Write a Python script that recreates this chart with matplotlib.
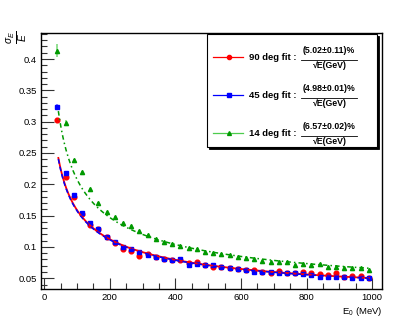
import numpy as np
import matplotlib
matplotlib.use("Agg")
import matplotlib.pyplot as plt
from matplotlib.lines import Line2D
from matplotlib.patches import Rectangle
from matplotlib.ticker import MultipleLocator, FuncFormatter

plt.rcParams['font.family'] = ['Liberation Sans', 'DejaVu Sans']
plt.rcParams['mathtext.fontset'] = 'custom'
plt.rcParams['mathtext.rm'] = 'Liberation Sans'
plt.rcParams['mathtext.it'] = 'Liberation Sans:italic'
plt.rcParams['mathtext.bf'] = 'Liberation Sans:bold'

# ---------------- data ----------------
energy = [40, 65, 90, 115, 140, 165, 190, 215, 240, 265, 290, 315, 340, 365, 390,
          415, 440, 465, 490, 515, 540, 565, 590, 615, 640, 665, 690, 715, 740,
          765, 790, 815, 840, 865, 890, 915, 940, 965, 990]

res_90 = [0.3026, 0.2121, 0.1793, 0.1526, 0.1351, 0.1280, 0.1160, 0.1069, 0.0968,
          0.0935, 0.0858, 0.0880, 0.0840, 0.0812, 0.0790, 0.0790, 0.0750, 0.0755,
          0.0707, 0.0672, 0.0686, 0.0660, 0.0645, 0.0638, 0.0632, 0.0605, 0.0590,
          0.0616, 0.0590, 0.0580, 0.0596, 0.0580, 0.0569, 0.0553, 0.0590, 0.0526,
          0.0530, 0.0537, 0.0505]

res_45 = [0.3239, 0.2176, 0.1830, 0.1547, 0.1378, 0.1287, 0.1164, 0.1085, 0.1005,
          0.0963, 0.0915, 0.0872, 0.0840, 0.0803, 0.0795, 0.0805, 0.0718, 0.0725,
          0.0704, 0.0704, 0.0672, 0.0660, 0.0648, 0.0632, 0.0605, 0.0596, 0.0605,
          0.0590, 0.0580, 0.0580, 0.0569, 0.0553, 0.0526, 0.0526, 0.0526, 0.0516,
          0.0510, 0.0510, 0.0500]

res_14 = [0.4132, 0.2974, 0.2385, 0.2190, 0.1920, 0.1707, 0.1558, 0.1483, 0.1388,
          0.1335, 0.1258, 0.1191, 0.1127, 0.1082, 0.1047, 0.1015, 0.0979, 0.0963,
          0.0920, 0.0904, 0.0885, 0.0872, 0.0835, 0.0829, 0.0800, 0.0780, 0.0765,
          0.0755, 0.0755, 0.0712, 0.0728, 0.0712, 0.0723, 0.0685, 0.0685, 0.0669,
          0.0669, 0.0660, 0.0640]

err_first_90 = [0.004, 0.003]
err_first_45 = [0.005, 0.003]
err_first_14 = [0.010, 0.005]
err_rest = 0.0015

# fit parameters (stochastic term, % / sqrt(E[GeV]))
fit_90 = 5.02
fit_45 = 4.98
fit_14 = 6.57
fit_labels = ["90 deg fit :", "45 deg fit :", "14 deg fit :"]
fit_fracs = ["(5.02\u00b10.11)%", "(4.98\u00b10.01)%", "(6.57\u00b10.02)%"]
fit_denom = "\u221aE(GeV)"

x_label = "E$_0$ (MeV)"
y_label = r"$\frac{\sigma_E}{E}$"
x_ticks = [0, 200, 400, 600, 800, 1000]

# ---------------- figure ----------------
W, H = 415, 323
fig = plt.figure(figsize=(W / 100, H / 100), dpi=100)
ax = fig.add_axes([41.3 / W, 1 - 289.3 / H, (382 - 41.3) / W, (289.3 - 32.5) / H])

red = '#ff0000'
blue = '#0000ff'
green = '#009900'

E = np.array(energy, dtype=float)

def errs(first):
    e = np.full(len(energy), err_rest)
    e[:len(first)] = first
    return e

ax.errorbar(E, res_90, yerr=errs(err_first_90), fmt='o', color=red, ms=3.4,
            mec=red, ecolor=(1, 0.5, 0.5), elinewidth=1.2, capsize=0, zorder=3)
ax.errorbar(E, res_45, yerr=errs(err_first_45), fmt='s', color=blue, ms=3.5,
            mec=blue, ecolor=(0.5, 0.5, 1), elinewidth=1.2, capsize=0, zorder=3)
ax.errorbar(E, res_14, yerr=errs(err_first_14), fmt='^', color=green, ms=3.0,
            mec=green, ecolor=(0.5, 0.85, 0.5), elinewidth=1.2, capsize=0, zorder=3)

# fit curves a/sqrt(E[GeV])
Ef = np.linspace(43, 990, 400)
ax.plot(Ef, fit_90 / 100 / np.sqrt(Ef / 1000), color=red, lw=1.3, zorder=4)
ax.plot(Ef, fit_45 / 100 / np.sqrt(Ef / 1000), color=blue, lw=1.1,
        dashes=(3, 2), zorder=5)
ax.plot(Ef, fit_14 / 100 / np.sqrt(Ef / 1000), color=green, lw=1.1,
        dashes=(3, 2, 1, 2), zorder=4)

ax.set_xlim(-9, 1030)
ax.set_ylim(0.0324, 0.4423)

ax.set_xticks(x_ticks)
ax.xaxis.set_minor_locator(MultipleLocator(50))
ax.yaxis.set_major_locator(MultipleLocator(0.05))
ax.yaxis.set_minor_locator(MultipleLocator(0.01))
ax.yaxis.set_major_formatter(FuncFormatter(lambda v, p: ('%.2f' % v).rstrip('0')))

ax.tick_params(axis='both', which='both', direction='in', top=False, right=False,
               labelsize=6.8, width=0.8, color='#333333')
ax.tick_params(axis='y', which='major', length=9, pad=3)
ax.tick_params(axis='y', which='minor', length=4.5)
ax.tick_params(axis='x', which='major', length=8, pad=2.5)
ax.tick_params(axis='x', which='minor', length=4)
for s in ax.spines.values():
    s.set_linewidth(1.0)

fig.text(382 / W, 1 - 311 / H, x_label, ha='right', va='center', fontsize=6.8)
fig.text(17 / W, 1 - 37 / H, y_label, ha='center', va='center', fontsize=10.5,
         rotation=90)

# ---------------- legend box ----------------
def fx(p):
    return p / W

def fy(p):
    return 1 - p / H

bx0, bx1, by0, by1 = 206.7, 376.7, 34, 147
shadow = Rectangle((fx(bx0 + 2), fy(by1 + 2)), fx(bx1 - bx0), (by1 - by0) / H,
                   transform=fig.transFigure, facecolor='black', edgecolor='black',
                   lw=0.6, zorder=9)
box = Rectangle((fx(bx0), fy(by1)), fx(bx1 - bx0), (by1 - by0) / H,
                transform=fig.transFigure, facecolor='white', edgecolor='black',
                lw=0.8, zorder=10)
fig.add_artist(shadow)
fig.add_artist(box)

rows = [57.3, 95.3, 133.3]
lcols = [red, blue, (0.3, 0.8, 0.3)]
mcols = [red, blue, green]
marks = ['o', 's', '^']
msz = [3.0, 3.0, 2.8]
for i, yrow in enumerate(rows):
    fig.add_artist(Line2D([fx(213), fx(243)], [fy(yrow), fy(yrow)],
                          transform=fig.transFigure, color=lcols[i], lw=0.9,
                          zorder=11))
    fig.add_artist(Line2D([fx(228.5)], [fy(yrow)], transform=fig.transFigure,
                          marker=marks[i], color=mcols[i], ms=msz[i], zorder=12,
                          linestyle='none'))
    fig.text(fx(249.3), fy(yrow), fit_labels[i], ha='left', va='center',
             fontsize=6.8, fontweight='bold', zorder=12)
    fig.text(fx(329), fy(yrow - 6.8), fit_fracs[i], ha='center', va='center',
             fontsize=6.3, fontweight='bold', zorder=12)
    fig.text(fx(329.5), fy(yrow + 7.8), fit_denom, ha='center', va='center',
             fontsize=6.3, fontweight='bold', zorder=12)
    fig.add_artist(Line2D([fx(300.5), fx(357)], [fy(yrow + 2.5), fy(yrow + 2.5)],
                          transform=fig.transFigure, color='black', lw=0.6,
                          zorder=12))

fig.savefig('out.png', dpi=100)
